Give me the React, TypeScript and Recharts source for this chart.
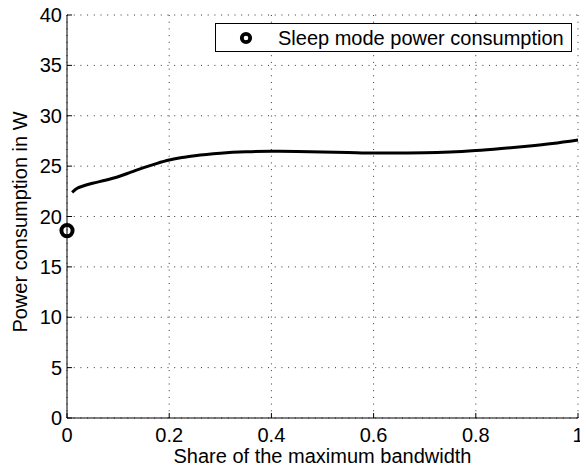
import {
  ComposedChart,
  Line,
  Scatter,
  XAxis,
  YAxis,
  CartesianGrid,
  Label,
} from 'recharts';

const FONT = '"Liberation Sans", Arial, Helvetica, sans-serif';

// bandwidth share (0..1) and measured power draw in W
const bandwidthShare = [
  0.01, 0.02, 0.03, 0.05, 0.075, 0.1, 0.125, 0.15, 0.175, 0.2, 0.225, 0.25,
  0.3, 0.35, 0.4, 0.45, 0.5, 0.55, 0.6, 0.65, 0.7, 0.75, 0.8, 0.85, 0.9, 0.95,
  1.0,
];
const activePower = [
  22.4, 22.8, 23.0, 23.3, 23.6, 23.95, 24.4, 24.85, 25.25, 25.6, 25.85, 26.03,
  26.28, 26.42, 26.47, 26.45, 26.4, 26.35, 26.3, 26.3, 26.32, 26.4, 26.55,
  26.75, 26.98, 27.25, 27.6,
];

const sleepShare = [0];
const sleepPower = [18.6];

const xTicks = [0, 0.2, 0.4, 0.6, 0.8, 1];
const yTicks = [0, 5, 10, 15, 20, 25, 30, 35, 40];

const legendLabel = 'Sleep mode power consumption';

const curveData = bandwidthShare.map((x, i) => ({ x, power: activePower[i] }));
const sleepData = sleepShare.map((x, i) => ({ x, power: sleepPower[i] }));

const XTick = ({ x, y, payload }: any) => (
  <g>
    <line x1={x} x2={x} y1={y} y2={y - 5} stroke="#000" strokeWidth={1} />
    <text x={x} y={y + 24} textAnchor="middle" fontSize={20} fontFamily={FONT} fill="#000">
      {payload.value}
    </text>
  </g>
);

const YTick = ({ x, y, payload }: any) => (
  <g>
    <line x1={x} x2={x + 5} y1={y} y2={y} stroke="#000" strokeWidth={1} />
    <text x={x - 5} y={y + 7} textAnchor="end" fontSize={20} fontFamily={FONT} fill="#000">
      {payload.value}
    </text>
  </g>
);

const SleepMarker = ({ cx, cy }: any) => (
  <circle cx={cx} cy={cy} r={5.6} fill="none" stroke="#000" strokeWidth={4} />
);

export default function App() {
  return (
    <div style={{ position: 'absolute', left: 0, top: 0, width: 580, height: 470, background: '#fff' }}>
      <ComposedChart
        width={580}
        height={470}
        margin={{ top: 15, right: 2, bottom: 0, left: 0 }}
        style={{ fontFamily: FONT }}
      >
        <CartesianGrid stroke="#333" strokeDasharray="1 5.7" />
        <XAxis
          type="number"
          dataKey="x"
          domain={[0, 1]}
          ticks={xTicks}
          height={52}
          stroke="#000"
          tickSize={0}
          tickMargin={0}
          tick={<XTick />}
          interval={0}
        >
          <Label
            value="Share of the maximum bandwidth"
            position="insideBottom"
            offset={7}
            fontSize={20}
            fontFamily={FONT}
            fill="#000"
          />
        </XAxis>
        <YAxis
          type="number"
          dataKey="power"
          domain={[0, 40]}
          ticks={yTicks}
          width={67}
          stroke="#000"
          tickSize={0}
          tickMargin={0}
          tick={<YTick />}
          interval={0}
        >
          <Label
            content={() => (
              <text
                transform="translate(27, 222) rotate(-90)"
                textAnchor="middle"
                fontSize={20}
                fontFamily={FONT}
                fill="#000"
              >
                Power consumption in W
              </text>
            )}
          />
        </YAxis>
        <Line
          data={curveData}
          dataKey="power"
          type="monotone"
          stroke="#000"
          strokeWidth={3}
          dot={false}
          activeDot={false}
          isAnimationActive={false}
        />
        <Scatter
          data={sleepData}
          dataKey="power"
          shape={<SleepMarker />}
          isAnimationActive={false}
        />
      </ComposedChart>
      <div
        style={{
          position: 'absolute',
          left: 215,
          top: 23,
          width: 355,
          height: 27,
          border: '1px solid #000',
          background: '#fff',
          display: 'flex',
          alignItems: 'center',
          fontFamily: FONT,
          fontSize: 20,
          lineHeight: 1,
          color: '#000',
        }}
      >
        <svg width={14} height={14} style={{ marginLeft: 23 }}>
          <circle cx={7} cy={7} r={4.2} fill="none" stroke="#000" strokeWidth={3.8} />
        </svg>
        <span style={{ marginLeft: 25 }}>{legendLabel}</span>
      </div>
    </div>
  );
}
